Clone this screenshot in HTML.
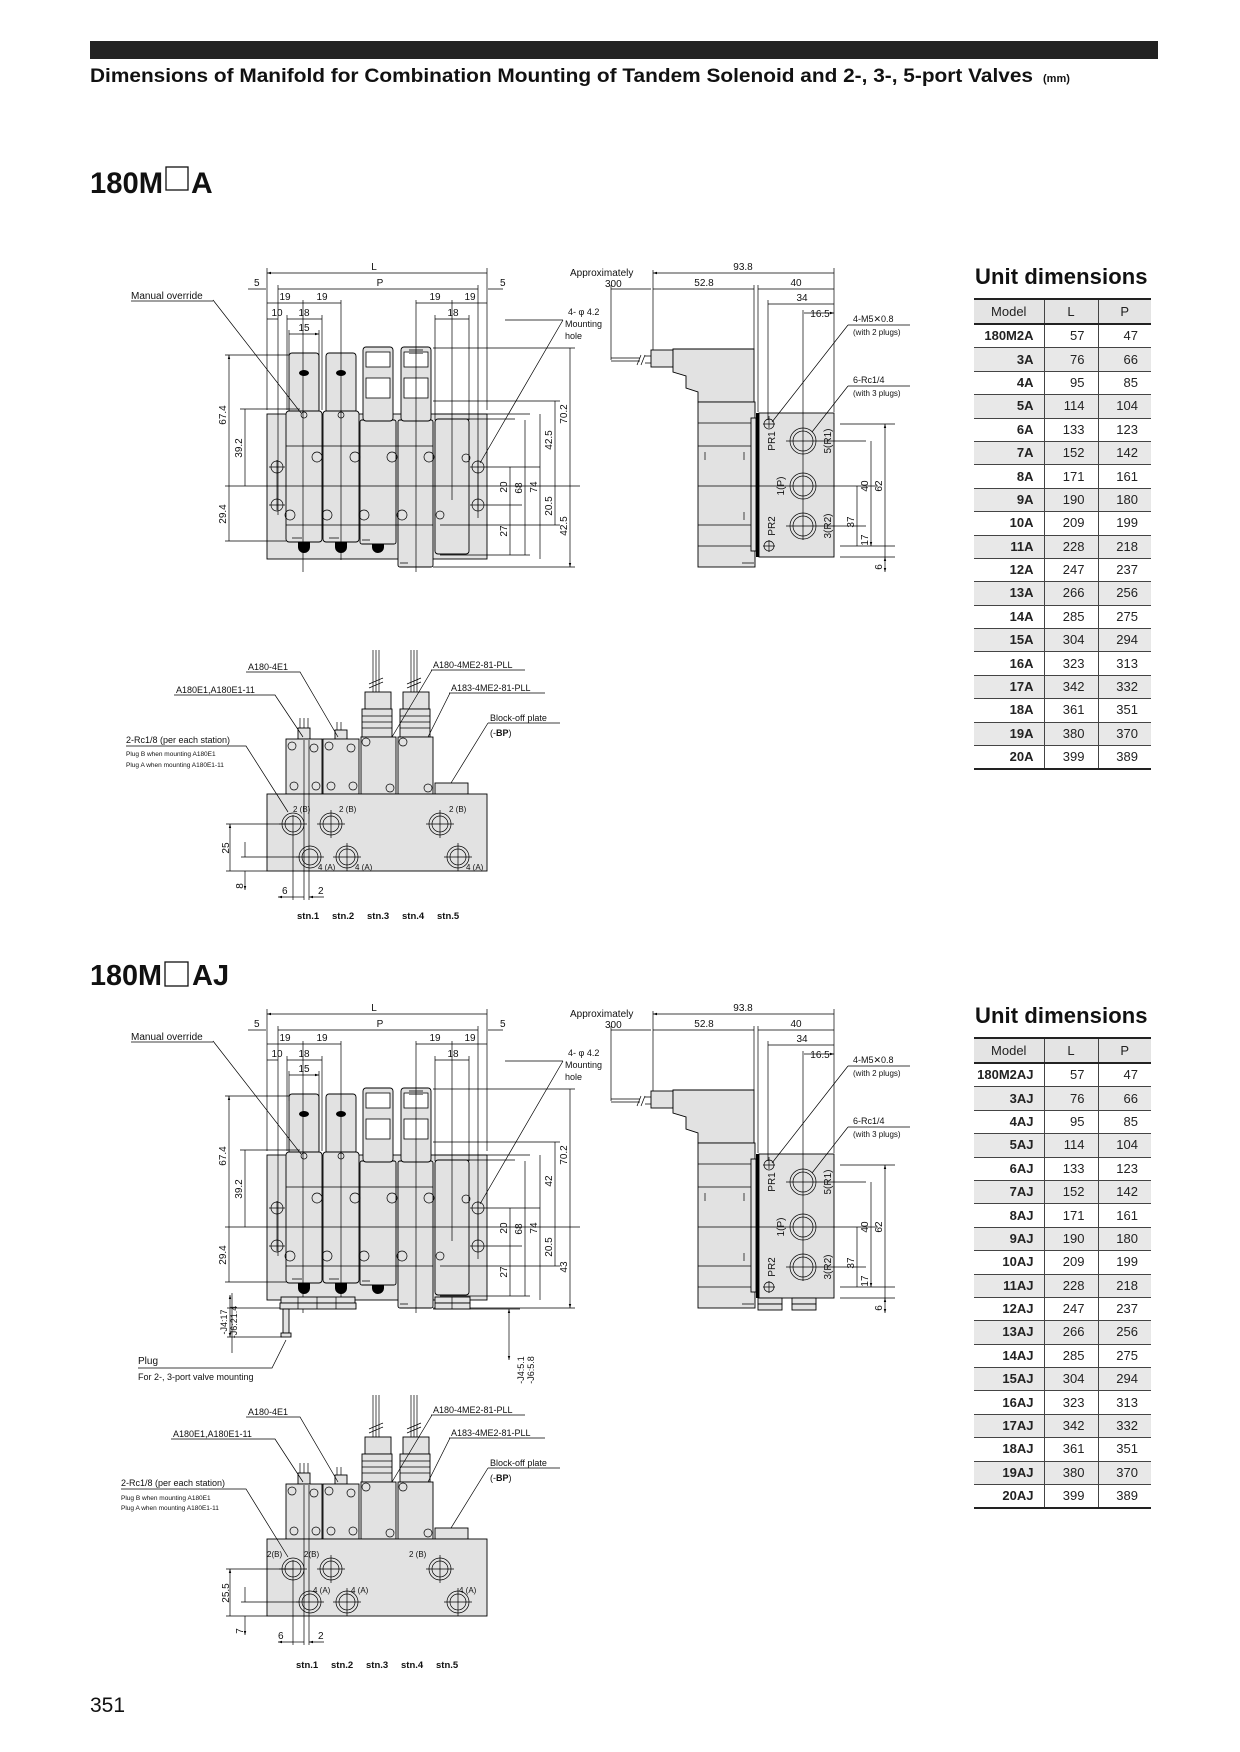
<!DOCTYPE html>
<html><head><meta charset="utf-8">
<style>
html,body{margin:0;padding:0;background:#fff;}
body{width:1240px;height:1752px;position:relative;overflow:hidden;font-family:"Liberation Sans",Arial,sans-serif;}
svg{position:absolute;left:0;top:0;}
.ut{position:absolute;left:975px;font-size:22px;font-weight:bold;color:#111;letter-spacing:0.1px;}
table.t{position:absolute;left:974px;width:177px;border-collapse:collapse;font-size:13px;color:#222;table-layout:fixed;}
table.t td{padding:0;height:22.4px;line-height:20px;border-bottom:1px solid #444;}
table.t td+td{border-left:1px solid #444;}
table.t tr.h td{height:23px;background:#e4e4e4;text-align:center;border-top:2.5px solid #222;border-bottom:2.5px solid #222;font-weight:normal;}
table.t tr:nth-child(odd):not(.h) td{background:#e8e8e8;}
table.t td.m{text-align:right;padding-right:10px;font-weight:bold;}
table.t td.v{text-align:right;padding-right:13px;}
table.t tr:last-child td{border-bottom:2.5px solid #222;}
</style></head><body>
<svg width="1240" height="1752" viewBox="0 0 1240 1752" font-family="Liberation Sans, Arial, sans-serif" font-size="10">
<defs>
<marker id="a" viewBox="0 0 10 6" refX="10" refY="3" markerWidth="6" markerHeight="4" orient="auto-start-reverse"><path d="M0,0 L10,3 L0,6z" fill="#000"/></marker>
<style>
.l{stroke:#000;stroke-width:0.7;fill:none}
.d{stroke:#000;stroke-width:0.7;fill:none;marker-start:url(#a);marker-end:url(#a)}
.g{fill:#e2e2e2;stroke:#000;stroke-width:0.9}
.w{fill:#fff;stroke:#000;stroke-width:0.8}
.k{fill:#000}
text{fill:#111}
.b{font-weight:bold}
</style>
<!-- FRONT VIEW shapes -->
<g id="fv">
<rect class="g" x="267" y="414" width="220" height="145"/>
<rect class="g" x="289" y="353" width="30" height="60" rx="3"/>
<rect class="g" x="286" y="411" width="36" height="131" rx="3"/>
<rect class="g" x="326" y="353" width="30" height="60" rx="3"/>
<rect class="g" x="323" y="411" width="36" height="131" rx="3"/>
<rect class="g" x="360" y="420" width="36" height="124" rx="2"/>
<rect class="g" x="363" y="347" width="30" height="74" rx="3"/>
<rect class="w" x="366" y="352" width="24" height="15"/>
<rect class="w" x="366" y="378" width="24" height="20"/>
<rect class="g" x="398" y="420" width="35" height="147" rx="2"/>
<rect class="g" x="401" y="347" width="30" height="74" rx="3"/>
<rect class="w" x="404" y="352" width="24" height="15"/>
<rect fill="#888" x="409" y="349" width="14" height="5"/>
<rect class="w" x="404" y="378" width="24" height="20"/>
<rect class="g" x="435" y="419" width="34" height="135" rx="3"/>
<path class="l" d="M286 446H433M286 525H433M292 538h10M329 538h10M362 540h8M400 563h8"/>
<g class="l">
<circle cx="317" cy="457" r="5"/><circle cx="355" cy="457" r="5"/><circle cx="392" cy="457" r="5"/><circle cx="429" cy="457" r="5"/><circle cx="466" cy="458" r="4"/>
<circle cx="290" cy="515" r="5"/><circle cx="327" cy="515" r="5"/><circle cx="364" cy="515" r="5"/><circle cx="402" cy="515" r="5"/><circle cx="440" cy="515" r="4"/>
<circle cx="304" cy="415" r="3"/><circle cx="341" cy="415" r="3"/>
<circle cx="277" cy="467" r="6"/><circle cx="277" cy="505" r="6"/><circle cx="478" cy="467" r="6"/><circle cx="478" cy="505" r="6"/>
<path d="M269 467h16M269 505h16M470 467h70M470 505h52M277 460v50M478 460v50"/>
</g>
<ellipse class="k" cx="304" cy="373" rx="5" ry="3"/><ellipse class="k" cx="341" cy="373" rx="5" ry="3"/>
<path class="k" d="M298 542h12v5a6 6 0 0 1-12 0z M335 542h12v5a6 6 0 0 1-12 0z M372 544h12v3a6 6 0 0 1-12 0z"/>
<path class="l" d="M267 268V410M487 268V410M278 285V515M478 285V518M303 300V572M341 300V560M416 300V572M452 300V500M287 315V410M322 315V410M289 330V360M319 330V410M435 315V420M469 315V420"/>
<path class="l" d="M225 355H289M240 409H300M225 486H580M225 541H286M433 401H560M435 414H530M440 419H515M440 555H530M433 567H575M433 348H575M440 525H560"/>
<path class="d" d="M267 273H487M278 289H478M267 303H303M303 303H341M416 303H452M452 303H487M287 319H322M435 319H469M289 334H319"/>
<path class="l" d="M248 289h18M488 289h15M267 319h11"/>
<path class="d" d="M229 355V541M245 409V486M510 467V505M510 505V555M525 420V555M540 414V559M555 401V486M555 486V525M570 348V486M570 486V567"/>
<path class="l" d="M213 300L301 413M563 320L480 463M505 320H563"/>
</g>
<!-- SIDE VIEW shapes -->
<g id="sv">
<path class="l" d="M611 358H640M611 361H640M645 356H651M645 363H651"/>
<path class="l" d="M637 365l4-10M641 365l4-10"/>
<rect class="g" x="651" y="350" width="22" height="17"/>
<path class="g" d="M673 349H754V402H698V392L686 388V376L673 372Z"/>
<rect class="g" x="698" y="402" width="57" height="165"/>
<path class="l" d="M698 423H752M698 446H752M698 525H752M698 546H752M705 452v8M744 452v8M744 512v8M742 563h12"/>
<rect class="g" x="751" y="418" width="5" height="133"/>
<rect class="k" x="756" y="413" width="3" height="144"/>
<rect class="g" x="759" y="413" width="75" height="144"/>
<g class="l">
<circle cx="803" cy="441" r="13"/><circle cx="803" cy="441" r="10"/>
<circle cx="803" cy="486" r="13"/><circle cx="803" cy="486" r="10"/>
<circle cx="803" cy="526" r="13"/><circle cx="803" cy="526" r="10"/>
<circle cx="769" cy="424" r="5"/><circle cx="769" cy="546" r="5"/>
<path d="M763 424h12M763 546h12M769 416v12M769 540v12M786 441h80M786 526h80M698 486h180M803 310V540"/>
<path d="M611 285V360M653 270V350M754 285V349M758 285V412M768 300V420M834 268V412M840 424H895M840 546H895M840 557H895"/>
</g>
<path class="d" d="M653 273H834M611 289H651M653 289H754M758 289H834M768 304H834M804 313H834"/>
<path class="d" d="M885 424V546M871 441V526M857 486V546M871 526V546"/>
<path class="l" d="M885 546v11"/><path class="d" d="M885 557V572"/>
<path class="l" d="M848 325H910M772 422L848 325M848 386H910M812 432L848 386"/>
</g>
<!-- BOTTOM VIEW shapes -->
<g id="bv">
<path class="l" d="M373 650V710M376 650V710M379 650V710M411 650V710M414 650V710M417 650V710M369 684l14-6M369 688l14-6M407 684l14-6M407 688l14-6"/>
<rect class="g" x="365" y="692" width="26" height="17"/>
<rect class="g" x="403" y="692" width="26" height="17"/>
<rect class="g" x="362" y="709" width="30" height="28"/><path class="l" d="M362 716h30M362 722h30M362 728h30"/>
<rect class="g" x="400" y="709" width="30" height="28"/><path class="l" d="M400 716h30M400 722h30M400 728h30"/>
<rect class="g" x="361" y="737" width="35" height="57"/>
<rect class="g" x="398" y="737" width="35" height="57"/>
<path class="l" d="M300 718v18M304 718v18M308 718v18M337 722v14M341 722v14"/>
<rect class="g" x="298" y="728" width="12" height="11"/><rect class="g" x="335" y="730" width="12" height="9"/>
<rect class="g" x="286" y="739" width="36" height="55" stroke-width="1.6"/>
<rect class="g" x="323" y="739" width="36" height="55" stroke-width="1.6"/>
<rect class="g" x="435" y="783" width="33" height="11"/>
<g class="l">
<circle cx="292" cy="746" r="4"/><circle cx="314" cy="748" r="4"/><circle cx="294" cy="786" r="4"/><circle cx="316" cy="786" r="4"/>
<circle cx="329" cy="746" r="4"/><circle cx="351" cy="748" r="4"/><circle cx="331" cy="786" r="4"/><circle cx="353" cy="786" r="4"/>
<circle cx="366" cy="742" r="4"/><circle cx="390" cy="788" r="4"/><circle cx="403" cy="742" r="4"/><circle cx="428" cy="788" r="4"/>
</g>
<rect class="g" x="267" y="794" width="220" height="77"/>
<g class="l">
<circle cx="293" cy="824" r="11"/><circle cx="293" cy="824" r="8"/>
<circle cx="331" cy="824" r="11"/><circle cx="331" cy="824" r="8"/>
<circle cx="440" cy="824" r="11"/><circle cx="440" cy="824" r="8"/>
<circle cx="310" cy="857" r="11"/><circle cx="310" cy="857" r="8"/>
<circle cx="347" cy="857" r="11"/><circle cx="347" cy="857" r="8"/>
<circle cx="458" cy="857" r="11"/><circle cx="458" cy="857" r="8"/>
<path d="M279 824h28M317 824h28M426 824h28M296 857h28M333 857h28M444 857h28M331 810v28M440 810v28M347 843v28M458 843v28"/>
<path d="M293 815V900M304 740V900M309 740V900M226 824H293M241 857H300"/>
</g>
<path class="d" d="M230 824V871M245 842V857M245 871V890"/>
<path class="l" d="M226 871H267M241 871H260"/>
<path class="d" d="M278 897H293M324 897H309"/>
<path class="l" d="M293 897h11"/>
</g>
</defs>

<rect x="90" y="41" width="1068" height="18" fill="#222"/>
<text x="90" y="82" font-size="19" font-weight="bold" textLength="943" lengthAdjust="spacingAndGlyphs">Dimensions of Manifold for Combination Mounting of Tandem Solenoid and 2-, 3-, 5-port Valves</text>
<text x="1043" y="82" font-size="11" font-weight="bold">(mm)</text>

<text x="90" y="193" font-size="30" font-weight="bold" textLength="73" lengthAdjust="spacingAndGlyphs">180M</text>
<rect x="166" y="167" width="22" height="23" fill="#fff" stroke="#111" stroke-width="1.3"/>
<text x="191" y="193" font-size="30" font-weight="bold">A</text>

<use href="#fv"/>
<use href="#sv"/>
<use href="#bv"/>

<g>
<text x="374" y="270" text-anchor="middle">L</text>
<text x="380" y="286" text-anchor="middle">P</text>
<text x="254" y="286">5</text><text x="500" y="286">5</text>
<text x="285" y="300" text-anchor="middle">19</text><text x="322" y="300" text-anchor="middle">19</text>
<text x="435" y="300" text-anchor="middle">19</text><text x="470" y="300" text-anchor="middle">19</text>
<text x="277" y="316" text-anchor="middle">10</text><text x="304" y="316" text-anchor="middle">18</text>
<text x="453" y="316" text-anchor="middle">18</text><text x="304" y="331" text-anchor="middle">15</text>
<text x="131" y="299">Manual override</text><path class="l" d="M131 301H213"/>
<text x="568" y="315" font-size="9">4- φ 4.2</text>
<text x="565" y="327" font-size="9">Mounting</text><text x="565" y="339" font-size="9">hole</text>
<text transform="translate(226,415) rotate(-90)" text-anchor="middle">67.4</text>
<text transform="translate(242,448) rotate(-90)" text-anchor="middle">39.2</text>
<text transform="translate(226,514) rotate(-90)" text-anchor="middle">29.4</text>
<text transform="translate(507,487) rotate(-90)" text-anchor="middle">20</text>
<text transform="translate(522,488) rotate(-90)" text-anchor="middle">68</text>
<text transform="translate(537,487) rotate(-90)" text-anchor="middle">74</text>
<text transform="translate(552,440) rotate(-90)" text-anchor="middle">42.5</text>
<text transform="translate(552,506) rotate(-90)" text-anchor="middle">20.5</text>
<text transform="translate(507,531) rotate(-90)" text-anchor="middle">27</text>
<text transform="translate(567,414) rotate(-90)" text-anchor="middle">70.2</text>
<text transform="translate(567,526) rotate(-90)" text-anchor="middle">42.5</text>
<text x="570" y="276">Approximately</text><text x="605" y="287">300</text>
<text x="743" y="270" text-anchor="middle">93.8</text>
<text x="704" y="286" text-anchor="middle">52.8</text><text x="796" y="286" text-anchor="middle">40</text>
<text x="802" y="301" text-anchor="middle">34</text><text x="820" y="317" text-anchor="middle">16.5</text>
<text x="853" y="322" font-size="9">4-M5✕0.8</text><text x="853" y="335" font-size="8">(with 2 plugs)</text>
<text x="853" y="383" font-size="9">6-Rc1/4</text><text x="853" y="396" font-size="8">(with 3 plugs)</text>
<text transform="translate(775,441) rotate(-90)" text-anchor="middle">PR1</text>
<text transform="translate(831,441) rotate(-90)" text-anchor="middle">5(R1)</text>
<text transform="translate(784,486) rotate(-90)" text-anchor="middle">1(P)</text>
<text transform="translate(775,526) rotate(-90)" text-anchor="middle">PR2</text>
<text transform="translate(831,526) rotate(-90)" text-anchor="middle">3(R2)</text>
<text transform="translate(882,486) rotate(-90)" text-anchor="middle">62</text>
<text transform="translate(868,486) rotate(-90)" text-anchor="middle">40</text>
<text transform="translate(854,522) rotate(-90)" text-anchor="middle">37</text>
<text transform="translate(868,540) rotate(-90)" text-anchor="middle">17</text>
<text transform="translate(882,567) rotate(-90)" text-anchor="middle">6</text>
</g>
<g>
<text x="248" y="670" font-size="9">A180-4E1</text><path class="l" d="M246 672H300L338 737"/>
<text x="176" y="693" font-size="9">A180E1,A180E1-11</text><path class="l" d="M174 695H275L303 737"/>
<text x="433" y="668" font-size="9">A180-4ME2-81-PLL</text><path class="l" d="M431 670H525M432 670L392 737"/>
<text x="451" y="691" font-size="9">A183-4ME2-81-PLL</text><path class="l" d="M449 693H545M450 693L428 737"/>
<text x="490" y="721" font-size="9">Block-off plate</text><path class="l" d="M488 723H560M488 723L451 783"/>
<text x="490" y="736" font-size="9">(-<tspan class="b">BP</tspan>)</text>
<text x="126" y="743" font-size="9">2-Rc1/8 (per each station)</text><path class="l" d="M126 746H246L288 812"/>
<text x="126" y="756" font-size="6.5">Plug B when mounting A180E1</text>
<text x="126" y="767" font-size="6.5">Plug A when mounting A180E1-11</text>
<text x="293" y="812" font-size="8">2 (B)</text><text x="339" y="812" font-size="8">2 (B)</text><text x="449" y="812" font-size="8">2 (B)</text>
<text x="318" y="870" font-size="8">4 (A)</text><text x="355" y="870" font-size="8">4 (A)</text><text x="466" y="870" font-size="8">4 (A)</text>
<text transform="translate(229,848) rotate(-90)" text-anchor="middle">25</text>
<text transform="translate(243,886) rotate(-90)" text-anchor="middle">8</text>
<text x="282" y="894">6</text><text x="318" y="894">2</text>
<text x="297" y="919" font-size="9.5" class="b">stn.1</text><text x="332" y="919" font-size="9.5" class="b">stn.2</text>
<text x="367" y="919" font-size="9.5" class="b">stn.3</text><text x="402" y="919" font-size="9.5" class="b">stn.4</text>
<text x="437" y="919" font-size="9.5" class="b">stn.5</text>
</g>

<text x="90" y="985" font-size="29" font-weight="bold" textLength="72" lengthAdjust="spacingAndGlyphs">180M</text>
<rect x="165" y="962" width="23" height="24" fill="#fff" stroke="#111" stroke-width="1.3"/>
<text x="192" y="985" font-size="29" font-weight="bold">AJ</text>

<use href="#fv" transform="translate(0,741)"/>
<use href="#sv" transform="translate(0,741)"/>
<use href="#bv" transform="translate(0,745)"/>
<g>
<rect class="g" x="281" y="1297" width="74" height="6"/><rect class="g" x="280" y="1303" width="76" height="6"/>
<path class="l" d="M298 1297v12M317 1297v12M336 1297v12"/>
<rect class="g" x="435" y="1297" width="35" height="6"/><rect class="g" x="435" y="1303" width="35" height="6"/>
<path class="l" d="M452 1297v12"/>
<rect class="g" x="283" y="1309" width="6" height="24"/><rect class="g" x="281" y="1333" width="10" height="4"/>
<path class="l" d="M227 1308H280M227 1337H282M232 1293V1353M433 1309H520"/>
<path class="d" d="M230 1295V1308M230 1308V1337"/>
<path class="d" d="M509 1309V1360"/>
<path class="l" d="M138 1368H272L286 1340"/>
<rect class="g" x="758" y="1298" width="24" height="6"/><rect class="g" x="792" y="1298" width="24" height="6"/>
<rect class="g" x="758" y="1304" width="24" height="6"/><rect class="g" x="792" y="1304" width="24" height="6"/>
</g>
<g>
<text x="374" y="1011" text-anchor="middle">L</text>
<text x="380" y="1027" text-anchor="middle">P</text>
<text x="254" y="1027">5</text><text x="500" y="1027">5</text>
<text x="285" y="1041" text-anchor="middle">19</text><text x="322" y="1041" text-anchor="middle">19</text>
<text x="435" y="1041" text-anchor="middle">19</text><text x="470" y="1041" text-anchor="middle">19</text>
<text x="277" y="1057" text-anchor="middle">10</text><text x="304" y="1057" text-anchor="middle">18</text>
<text x="453" y="1057" text-anchor="middle">18</text><text x="304" y="1072" text-anchor="middle">15</text>
<text x="131" y="1040">Manual override</text><path class="l" d="M131 1042H213"/>
<text x="568" y="1056" font-size="9">4- φ 4.2</text>
<text x="565" y="1068" font-size="9">Mounting</text><text x="565" y="1080" font-size="9">hole</text>
<text transform="translate(226,1156) rotate(-90)" text-anchor="middle">67.4</text>
<text transform="translate(242,1189) rotate(-90)" text-anchor="middle">39.2</text>
<text transform="translate(226,1255) rotate(-90)" text-anchor="middle">29.4</text>
<text transform="translate(507,1228) rotate(-90)" text-anchor="middle">20</text>
<text transform="translate(522,1229) rotate(-90)" text-anchor="middle">68</text>
<text transform="translate(537,1228) rotate(-90)" text-anchor="middle">74</text>
<text transform="translate(552,1181) rotate(-90)" text-anchor="middle">42</text>
<text transform="translate(552,1247) rotate(-90)" text-anchor="middle">20.5</text>
<text transform="translate(507,1272) rotate(-90)" text-anchor="middle">27</text>
<text transform="translate(567,1155) rotate(-90)" text-anchor="middle">70.2</text>
<text transform="translate(567,1267) rotate(-90)" text-anchor="middle">43</text>
<text transform="translate(227,1322) rotate(-90)" text-anchor="middle" font-size="9">-J4:17</text>
<text transform="translate(237,1322) rotate(-90)" text-anchor="middle" font-size="9">-J6:21.4</text>
<text transform="translate(524,1370) rotate(-90)" text-anchor="middle" font-size="9">-J4:5.1</text>
<text transform="translate(534,1370) rotate(-90)" text-anchor="middle" font-size="9">-J6:5.8</text>
<text x="138" y="1364">Plug</text>
<text x="138" y="1380" font-size="9">For 2-, 3-port valve mounting</text>
<text x="570" y="1017">Approximately</text><text x="605" y="1028">300</text>
<text x="743" y="1011" text-anchor="middle">93.8</text>
<text x="704" y="1027" text-anchor="middle">52.8</text><text x="796" y="1027" text-anchor="middle">40</text>
<text x="802" y="1042" text-anchor="middle">34</text><text x="820" y="1058" text-anchor="middle">16.5</text>
<text x="853" y="1063" font-size="9">4-M5✕0.8</text><text x="853" y="1076" font-size="8">(with 2 plugs)</text>
<text x="853" y="1124" font-size="9">6-Rc1/4</text><text x="853" y="1137" font-size="8">(with 3 plugs)</text>
<text transform="translate(775,1182) rotate(-90)" text-anchor="middle">PR1</text>
<text transform="translate(831,1182) rotate(-90)" text-anchor="middle">5(R1)</text>
<text transform="translate(784,1227) rotate(-90)" text-anchor="middle">1(P)</text>
<text transform="translate(775,1267) rotate(-90)" text-anchor="middle">PR2</text>
<text transform="translate(831,1267) rotate(-90)" text-anchor="middle">3(R2)</text>
<text transform="translate(882,1227) rotate(-90)" text-anchor="middle">62</text>
<text transform="translate(868,1227) rotate(-90)" text-anchor="middle">40</text>
<text transform="translate(854,1263) rotate(-90)" text-anchor="middle">37</text>
<text transform="translate(868,1281) rotate(-90)" text-anchor="middle">17</text>
<text transform="translate(882,1308) rotate(-90)" text-anchor="middle">6</text>
</g>
<g>
<text x="248" y="1415" font-size="9">A180-4E1</text><path class="l" d="M246 1417H300L338 1482"/>
<text x="173" y="1437" font-size="9">A180E1,A180E1-11</text><path class="l" d="M171 1439H275L303 1482"/>
<text x="433" y="1413" font-size="9">A180-4ME2-81-PLL</text><path class="l" d="M431 1415H525M432 1415L392 1482"/>
<text x="451" y="1436" font-size="9">A183-4ME2-81-PLL</text><path class="l" d="M449 1438H545M450 1438L428 1482"/>
<text x="490" y="1466" font-size="9">Block-off plate</text><path class="l" d="M488 1468H560M488 1468L451 1528"/>
<text x="490" y="1481" font-size="9">(-<tspan class="b">BP</tspan>)</text>
<text x="121" y="1486" font-size="9">2-Rc1/8 (per each station)</text><path class="l" d="M121 1489H246L288 1557"/>
<text x="121" y="1500" font-size="6.5">Plug B when mounting A180E1</text>
<text x="121" y="1510" font-size="6.5">Plug A when mounting A180E1-11</text>
<text x="267" y="1557" font-size="8">2(B)</text><text x="304" y="1557" font-size="8">2(B)</text><text x="409" y="1557" font-size="8">2 (B)</text>
<text x="313" y="1593" font-size="8">4 (A)</text><text x="351" y="1593" font-size="8">4 (A)</text><text x="459" y="1593" font-size="8">4 (A)</text>
<text transform="translate(229,1593) rotate(-90)" text-anchor="middle">25.5</text>
<text transform="translate(243,1631) rotate(-90)" text-anchor="middle">7</text>
<text x="278" y="1639">6</text><text x="318" y="1639">2</text>
<text x="296" y="1668" font-size="9.5" class="b">stn.1</text><text x="331" y="1668" font-size="9.5" class="b">stn.2</text>
<text x="366" y="1668" font-size="9.5" class="b">stn.3</text><text x="401" y="1668" font-size="9.5" class="b">stn.4</text>
<text x="436" y="1668" font-size="9.5" class="b">stn.5</text>
</g>

<text x="90" y="1712" font-size="21">351</text>
</svg>

<div class="ut" style="top:264px;">Unit dimensions</div>
<table class="t" style="top:298px;">
<colgroup><col style="width:70px"><col style="width:54px"><col style="width:53px"></colgroup>
<tr class="h"><td>Model</td><td>L</td><td>P</td></tr>
<tr><td class="m">180M2A</td><td class="v">57</td><td class="v">47</td></tr>
<tr><td class="m">3A</td><td class="v">76</td><td class="v">66</td></tr>
<tr><td class="m">4A</td><td class="v">95</td><td class="v">85</td></tr>
<tr><td class="m">5A</td><td class="v">114</td><td class="v">104</td></tr>
<tr><td class="m">6A</td><td class="v">133</td><td class="v">123</td></tr>
<tr><td class="m">7A</td><td class="v">152</td><td class="v">142</td></tr>
<tr><td class="m">8A</td><td class="v">171</td><td class="v">161</td></tr>
<tr><td class="m">9A</td><td class="v">190</td><td class="v">180</td></tr>
<tr><td class="m">10A</td><td class="v">209</td><td class="v">199</td></tr>
<tr><td class="m">11A</td><td class="v">228</td><td class="v">218</td></tr>
<tr><td class="m">12A</td><td class="v">247</td><td class="v">237</td></tr>
<tr><td class="m">13A</td><td class="v">266</td><td class="v">256</td></tr>
<tr><td class="m">14A</td><td class="v">285</td><td class="v">275</td></tr>
<tr><td class="m">15A</td><td class="v">304</td><td class="v">294</td></tr>
<tr><td class="m">16A</td><td class="v">323</td><td class="v">313</td></tr>
<tr><td class="m">17A</td><td class="v">342</td><td class="v">332</td></tr>
<tr><td class="m">18A</td><td class="v">361</td><td class="v">351</td></tr>
<tr><td class="m">19A</td><td class="v">380</td><td class="v">370</td></tr>
<tr><td class="m">20A</td><td class="v">399</td><td class="v">389</td></tr>
</table>

<div class="ut" style="top:1003px;">Unit dimensions</div>
<table class="t" style="top:1037px;">
<colgroup><col style="width:70px"><col style="width:54px"><col style="width:53px"></colgroup>
<tr class="h"><td>Model</td><td>L</td><td>P</td></tr>
<tr><td class="m">180M2AJ</td><td class="v">57</td><td class="v">47</td></tr>
<tr><td class="m">3AJ</td><td class="v">76</td><td class="v">66</td></tr>
<tr><td class="m">4AJ</td><td class="v">95</td><td class="v">85</td></tr>
<tr><td class="m">5AJ</td><td class="v">114</td><td class="v">104</td></tr>
<tr><td class="m">6AJ</td><td class="v">133</td><td class="v">123</td></tr>
<tr><td class="m">7AJ</td><td class="v">152</td><td class="v">142</td></tr>
<tr><td class="m">8AJ</td><td class="v">171</td><td class="v">161</td></tr>
<tr><td class="m">9AJ</td><td class="v">190</td><td class="v">180</td></tr>
<tr><td class="m">10AJ</td><td class="v">209</td><td class="v">199</td></tr>
<tr><td class="m">11AJ</td><td class="v">228</td><td class="v">218</td></tr>
<tr><td class="m">12AJ</td><td class="v">247</td><td class="v">237</td></tr>
<tr><td class="m">13AJ</td><td class="v">266</td><td class="v">256</td></tr>
<tr><td class="m">14AJ</td><td class="v">285</td><td class="v">275</td></tr>
<tr><td class="m">15AJ</td><td class="v">304</td><td class="v">294</td></tr>
<tr><td class="m">16AJ</td><td class="v">323</td><td class="v">313</td></tr>
<tr><td class="m">17AJ</td><td class="v">342</td><td class="v">332</td></tr>
<tr><td class="m">18AJ</td><td class="v">361</td><td class="v">351</td></tr>
<tr><td class="m">19AJ</td><td class="v">380</td><td class="v">370</td></tr>
<tr><td class="m">20AJ</td><td class="v">399</td><td class="v">389</td></tr>
</table>
</body></html>
